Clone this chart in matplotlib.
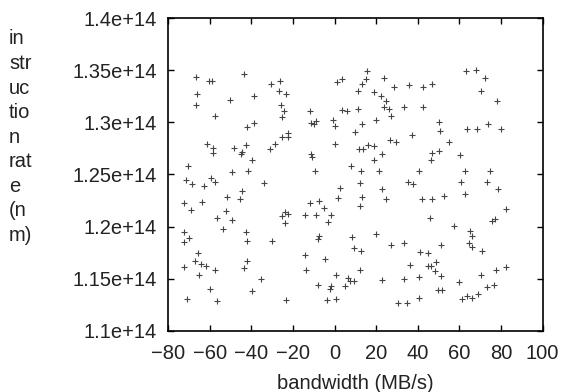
import matplotlib
matplotlib.use("Agg")
import matplotlib.pyplot as plt

plt.rcParams["font.family"] = ["Liberation Sans", "DejaVu Sans"]

# bandwidth (MB/s) and instruction rate (units of 1e14)
bw = [
    -66.4, -60.3, -58.8, -43.7, -66.1, -66.7, -50.4, -38.7, -57.3, -42.2, -38.9,
    -61.3, -58.5, -58.5, -48.2, -44.3, -44.8, -42.4, -39.6, -70.2, -49.2, -41.6,
    -30.4, -26.1, -26.7, -23.3, -25.9, -24.1, -25.3, -25.3, -22.4, -22.4, -28.5, -31.2,
    -12.0, -11.5, -9.9, -9.1, -0.6, 0.1, 0.2, -11.2, -10.7, -9.6, 1.4, 3.5, 3.5, 5.9,
    11.5, 13.2, 14.9, 15.7, 11.2, 13.1, 10.0, 11.7, 13.8, 16.2, 19.2, 19.0, 22.7,
    8.0, 12.9, 21.4, 18.8, 22.4, 23.7, 24.6, 23.9, 26.4, 27.3, 19.9, 28.7, 33.2,
    35.9, 37.2, 26.8, 29.7,
    42.3, 46.8, 42.3, 50.3, 50.8, 55.1, 46.8, 50.0, 46.5, 60.4, 40.4, 62.8, 74.6,
    63.1, 67.9, 72.4, 70.2, 78.3, 63.6, 68.7, 73.6, 79.8,
    -71.5, -68.3, -62.7, -59.2, -57.3, -33.7, -44.3, -51.7, -45.6, -72.5, -63.5,
    -69.1, -56.5, -52.0, -49.2, -53.4, -72.5, -72.5, -70.1, -42.5, -42.0, -29.9,
    -25.2, -23.6, -22.3, -23.7, -65.5, -66.9, -64.2, -61.9, -72.5, -57.3, -65.1,
    -42.0, -43.3, -35.3, -60.0, -39.6, -70.7, -56.3, -23.3,
    2.8, 1.8, 12.3, 13.2, 12.3, 22.7, 24.7, 35.4, 37.7, -11.7, -7.3, -4.9,
    -14.1, -9.1, -1.9, -3.2, -7.3, -8.1, 8.4, 20.1, 9.2, 12.6, 27.1, 33.5,
    -14.4, -4.5, -13.8, 12.3, 0.7, 36.2, 22.7, 33.5, 6.4, 7.6, 9.6, 4.8, -8.1,
    -1.6, -2.3, -3.5, 0.5, 30.4, 34.7,
    42.0, 46.9, 52.4, 60.9, 62.5, 73.1, 78.5, 45.9, 57.2, 82.2, 75.9, 77.1,
    65.2, 66.2, 64.4, 66.2, 71.1, 51.4, 41.2, 44.8, 44.8, 46.4, 48.7, 48.4, 51.1,
    40.7, 49.6, 51.9, 40.4, 59.9, 70.3, 77.8, 82.2, 73.5, 76.8, 69.2, 61.2, 63.6, 66.0,
]
rate = [
    1.3434, 1.3399, 1.3400, 1.3466, 1.3274, 1.3167, 1.3212, 1.3251, 1.3061, 1.2959, 1.2991,
    1.2788, 1.2750, 1.2705, 1.2750, 1.2717, 1.2692, 1.2782, 1.2640, 1.2582, 1.2525, 1.2537,
    1.3367, 1.3396, 1.3302, 1.3270, 1.3167, 1.3110, 1.3055, 1.2862, 1.2896, 1.2858, 1.2795, 1.2746,
    1.3113, 1.2997, 1.2985, 1.3013, 1.3023, 1.2968, 1.2795, 1.2695, 1.2666, 1.2531, 1.3386, 1.3415, 1.3119, 1.3106,
    1.3296, 1.3370, 1.3418, 1.3495, 1.3126, 1.2981, 1.2910, 1.2746, 1.2746, 1.2782, 1.2775, 1.2634, 1.2692,
    1.2582, 1.2531, 1.2534, 1.3286, 1.3257, 1.3428, 1.3200, 1.3145, 1.3132, 1.3058, 1.3020, 1.3335, 1.3148,
    1.3360, 1.2881, 1.2830, 1.2807,
    1.3338, 1.3370, 1.3151, 1.3000, 1.2917, 1.2807, 1.2705, 1.2727, 1.2640, 1.2685, 1.2531, 1.2531, 1.2531,
    1.3495, 1.3505, 1.3421, 1.3296, 1.3209, 1.2936, 1.2933, 1.2987, 1.2939,
    1.2444, 1.2406, 1.2390, 1.2464, 1.2431, 1.2415, 1.2341, 1.2287, 1.2267, 1.2226, 1.2236,
    1.2158, 1.2087, 1.2148, 1.2066, 1.1981, 1.1946, 1.1850, 1.1891, 1.1952, 1.1866, 1.1863,
    1.2097, 1.2136, 1.2116, 1.2030, 1.1743, 1.1673, 1.1641, 1.1621, 1.1609, 1.1583, 1.1531,
    1.1666, 1.1602, 1.1496, 1.1406, 1.1383, 1.1306, 1.1290, 1.1300,
    1.2374, 1.2277, 1.2422, 1.2287, 1.2197, 1.2357, 1.2267, 1.2425, 1.2406, 1.2222, 1.2245, 1.2181,
    1.2107, 1.2107, 1.2107, 1.2042, 1.1914, 1.1882, 1.1904, 1.1930, 1.1795, 1.1769, 1.1824, 1.1840,
    1.1727, 1.1692, 1.1583, 1.1580, 1.1538, 1.1636, 1.1486, 1.1499, 1.1506, 1.1480, 1.1474, 1.1432, 1.1442,
    1.1426, 1.1403, 1.1297, 1.1305, 1.1265, 1.1265,
    1.2261, 1.2261, 1.2293, 1.2431, 1.2316, 1.2431, 1.2364, 1.2084, 1.2010, 1.2165, 1.2058, 1.2068,
    1.1962, 1.1911, 1.1846, 1.1805, 1.1766, 1.1827, 1.1753, 1.1743, 1.1625, 1.1618, 1.1656, 1.1570, 1.1529,
    1.1515, 1.1393, 1.1393, 1.1313, 1.1473, 1.1531, 1.1583, 1.1615, 1.1425, 1.1441, 1.1358, 1.1303, 1.1338, 1.1319,
]
rate = [r * 1e14 for r in rate]

xticks = [-80, -60, -40, -20, 0, 20, 40, 60, 80, 100]
yticks = [1.1e14, 1.15e14, 1.2e14, 1.25e14, 1.3e14, 1.35e14, 1.4e14]
ylabels = ["1.1e+14", "1.15e+14", "1.2e+14", "1.25e+14", "1.3e+14", "1.35e+14", "1.4e+14"]

fig = plt.figure(figsize=(5.64, 3.92), dpi=100)
ax = fig.add_axes([0.298, 0.156, 0.664, 0.798])
ax.plot(bw, rate, linestyle="none", marker="+", markersize=5, markeredgewidth=0.8, color="#444444")

ax.set_xlim(-80, 100)
ax.set_ylim(1.1e14, 1.4e14)
ax.set_xticks(xticks)
ax.set_yticks(yticks)
ax.set_yticklabels(ylabels)
ax.tick_params(direction="in", top=True, right=True, labelsize=14.5, length=4, pad=8, width=1,
               labelcolor="#222222")
ax.tick_params(axis="x", pad=9.5)
for s in ax.spines.values():
    s.set_linewidth(1.2)
ax.set_xlabel("bandwidth (MB/s)", fontsize=14.5, labelpad=8, color="#222222")

fig.text(0.016, 0.925, "in\nstr\nuc\ntio\nn\nrat\ne\n(n\nm)", fontsize=14.5,
         va="top", ha="left", linespacing=1.37, color="#222222")

fig.savefig("out.png", dpi=100)
